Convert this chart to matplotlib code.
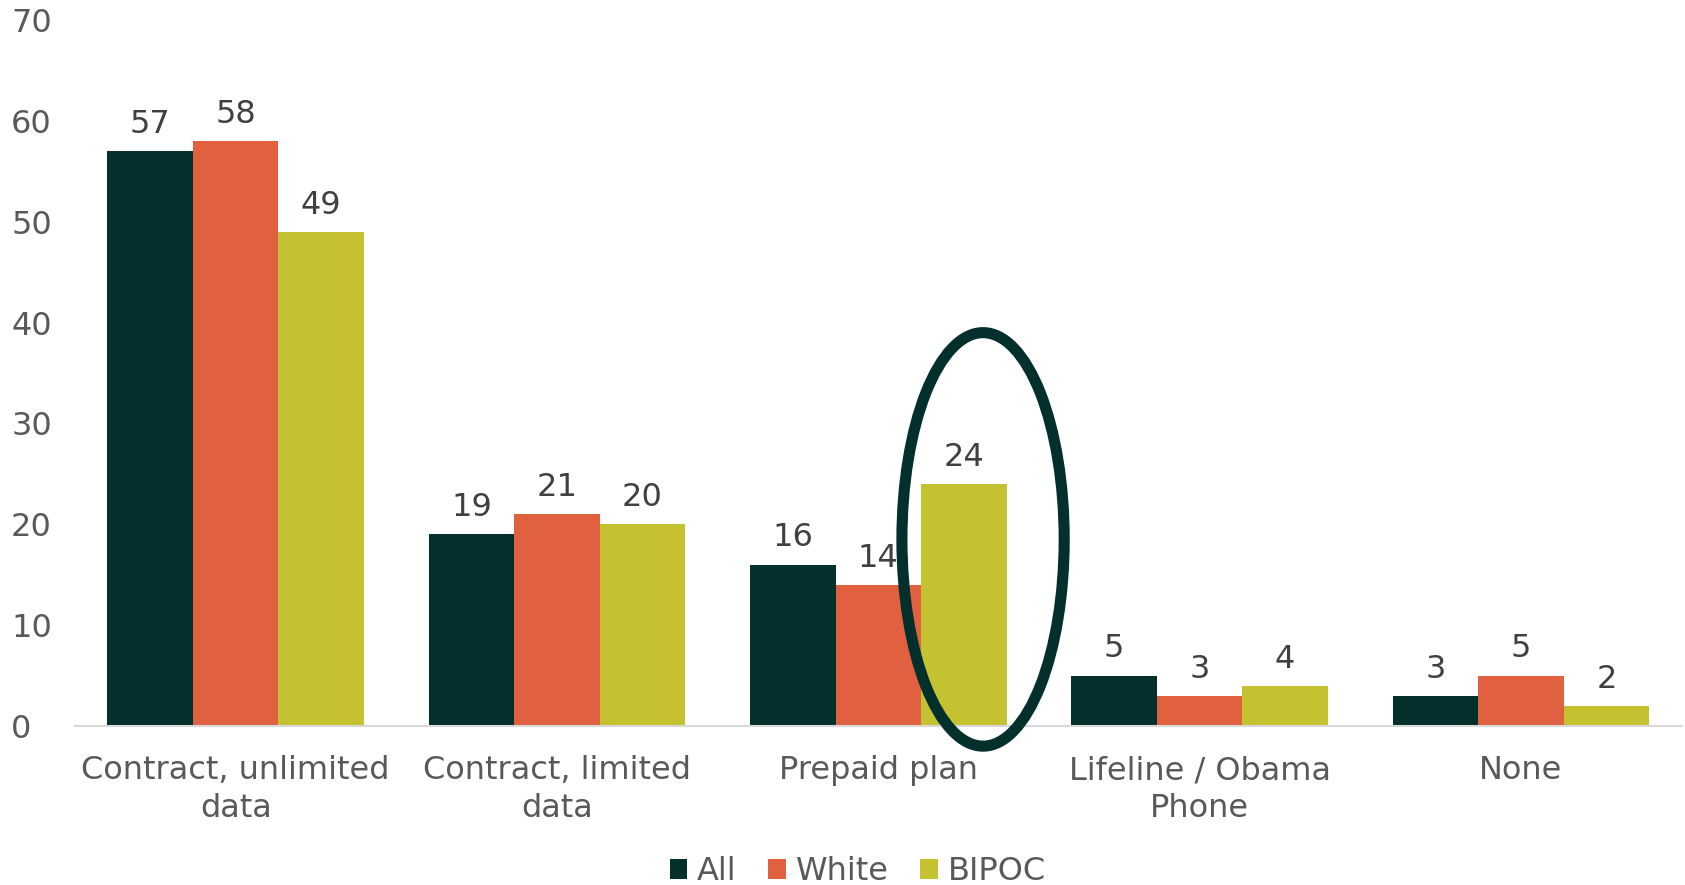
import matplotlib.pyplot as plt
import numpy as np
from matplotlib.patches import Ellipse

categories = ["Contract, unlimited\ndata", "Contract, limited\ndata", "Prepaid plan",
              "Lifeline / Obama\nPhone", "None"]
series = ["All", "White", "BIPOC"]
all_vals = [57, 19, 16, 5, 3]
white_vals = [58, 21, 14, 3, 5]
bipoc_vals = [49, 20, 24, 4, 2]
colors = ["#03302C", "#E0603F", "#C5C232"]

plt.rcParams['font.family'] = ['DejaVu Sans']

fig = plt.figure(figsize=(16.85, 8.85), dpi=100)
ax = fig.add_axes([0.0445, 0.1797, 0.9535, 0.7977])

x = np.arange(len(categories))
w = 0.266
bars = []
for i, (name, vals) in enumerate(zip(series, [all_vals, white_vals, bipoc_vals])):
    b = ax.bar(x + (i - 1) * w, vals, w, color=colors[i], label=name)
    bars.append(b)
    for xi, v in zip(x + (i - 1) * w, vals):
        ax.annotate(str(v), (xi, v), xytext=(0, 8), textcoords="offset points",
                    ha="center", va="bottom", fontsize=23, color="#404040")

ax.set_xlim(-0.5, len(categories) - 0.5)
ax.set_ylim(0, 70)
ax.set_yticks(range(0, 71, 10))
ax.set_xticks(x)
ax.set_xticklabels(categories, fontsize=23, color="#595959", linespacing=1.3)
ax.tick_params(axis="y", labelsize=23, labelcolor="#595959", length=0, pad=46)
ax.tick_params(axis="x", length=0, pad=21)
for s in ["top", "right", "left"]:
    ax.spines[s].set_visible(False)
ax.spines["bottom"].set_color("#D9D9D9")
ax.spines["bottom"].set_linewidth(1.5)
for lab in ax.get_yticklabels():
    lab.set_horizontalalignment("left")

# highlight on the BIPOC prepaid bar
ell = Ellipse((2.326, 18.5), 0.505, 41.0, fill=False, edgecolor="#03302C",
              linewidth=8, clip_on=False, zorder=5)
ax.add_patch(ell)

fig.legend(handles=bars, labels=series, loc="center", bbox_to_anchor=(0.509, 0.015),
           ncol=3, frameon=False, fontsize=23, handlelength=0.55, handleheight=0.55,
           handletextpad=0.3, columnspacing=1.0, labelcolor="#595959")

fig.savefig("out.png", dpi=100)
